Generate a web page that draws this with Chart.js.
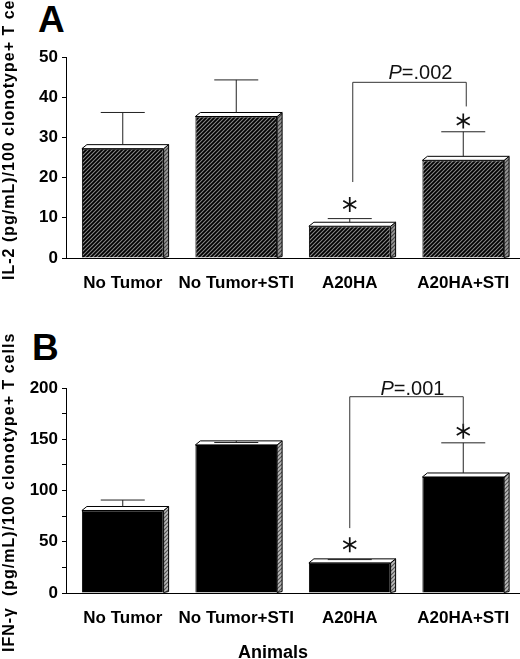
<!DOCTYPE html>
<html>
<head>
<meta charset="utf-8">
<script src="https://cdn.jsdelivr.net/npm/chart.js@4.4.1/dist/chart.umd.min.js"></script>
<style>
  body { margin: 0; background: #fff; width: 520px; height: 659px; position: relative; overflow: hidden; font-family: "Liberation Sans", Arial, sans-serif; }
  canvas { position: absolute; left: 0; }
  .panel { position: absolute; font-weight: bold; font-size: 37px; color: #000; line-height: 1; }
  #animals { position: absolute; left: 238px; top: 643px; font-weight: bold; font-size: 18px; line-height: 1; }
</style>
</head>
<body>
<div class="panel" style="left:38px; top:1px;">A</div>
<canvas id="chartA" width="520" height="310" style="top:0px;"></canvas>
<div class="panel" style="left:32px; top:329px;">B</div>
<canvas id="chartB" width="520" height="329" style="top:330px;"></canvas>
<div id="animals">Animals</div>
<script>
// categories and values
var categories = ['No Tumor', 'No Tumor+STI', 'A20HA', 'A20HA+STI'];

var il2Values = [27.2, 35.2, 7.9, 24.3];
var il2ErrorTop = [36.2, 44.3, 9.8, 31.4];
var il2Stars = [null, null, 13.3, 34.1];
var il2Bracket = [18.9, 43.7, 37.7]; // left end, top, right end
var il2PValue = '=.002';
var il2PLevel = 45.9;

var ifnValues = [80.5, 144.5, 29.4, 113.2];
var ifnErrorTop = [90.7, 146.8, 32.6, 146.5];
var ifnStars = [null, null, 47, 157.8];
var ifnBracket = [63.3, 191.5, 162.7];
var ifnPValue = '=.001';
var ifnPLevel = 199;

function makeHatch(bg, fg, w) {
    var c = document.createElement('canvas');
    c.width = 4; c.height = 4;
    var g = c.getContext('2d');
    g.fillStyle = bg;
    g.fillRect(0, 0, 4, 4);
    g.strokeStyle = fg;
    g.lineWidth = w;
    g.beginPath();
    g.moveTo(0, 4); g.lineTo(4, 0);
    g.moveTo(-1, 1); g.lineTo(1, -1);
    g.moveTo(3, 5); g.lineTo(5, 3);
    g.stroke();
    return g.createPattern(c, 'repeat');
}

function drawStar(ctx, x, y, r) {
    ctx.save();
    ctx.strokeStyle = '#111';
    ctx.lineWidth = 1.7;
    ctx.beginPath();
    for (var k = 0; k < 3; k++) {
        var a = Math.PI / 2 + k * Math.PI / 3;
        ctx.moveTo(x - r * Math.cos(a), y - r * Math.sin(a));
        ctx.lineTo(x + r * Math.cos(a), y + r * Math.sin(a));
    }
    ctx.stroke();
    ctx.restore();
}

// 3D faces, error bars, stars and the P bracket
var decorPlugin = {
    id: 'decor',
    afterDatasetsDraw: function (chart, args, opts) {
        var ctx = chart.ctx;
        var yScale = chart.scales.y;
        var meta = chart.getDatasetMeta(0);
        var d = 5, dy = 4;
        ctx.save();
        meta.data.forEach(function (bar, i) {
            var p = bar.getProps(['x', 'y', 'base', 'width'], true);
            var l = p.x - p.width / 2, r = p.x + p.width / 2, top = p.y;
            // right side
            ctx.beginPath();
            ctx.moveTo(r, top);
            ctx.lineTo(r + d, top - dy);
            ctx.lineTo(r + d, p.base - 1);
            ctx.lineTo(r, p.base);
            ctx.closePath();
            ctx.fillStyle = opts.sideFill;
            ctx.fill();
            ctx.strokeStyle = '#000';
            ctx.lineWidth = 1;
            ctx.stroke();
            // top face
            ctx.beginPath();
            ctx.moveTo(l, top);
            ctx.lineTo(l + d, top - dy);
            ctx.lineTo(r + d, top - dy);
            ctx.lineTo(r, top);
            ctx.closePath();
            ctx.fillStyle = '#fff';
            ctx.fill();
            ctx.stroke();
            // error bar
            var ey = yScale.getPixelForValue(opts.errorTop[i]);
            ctx.strokeStyle = '#222';
            ctx.beginPath();
            ctx.moveTo(p.x, top - dy);
            ctx.lineTo(p.x, ey);
            ctx.moveTo(p.x - 22, ey);
            ctx.lineTo(p.x + 22, ey);
            ctx.stroke();
            if (opts.stars[i] != null) {
                drawStar(ctx, p.x, yScale.getPixelForValue(opts.stars[i]), 7.5);
            }
        });
        // bracket between A20HA and A20HA+STI
        var xl = meta.data[2].x + opts.bracketShift, xr = meta.data[3].x + opts.bracketShift;
        var b = opts.bracket;
        ctx.strokeStyle = '#333';
        ctx.lineWidth = 1;
        ctx.beginPath();
        ctx.moveTo(xl, yScale.getPixelForValue(b[0]));
        ctx.lineTo(xl, yScale.getPixelForValue(b[1]));
        ctx.lineTo(xr, yScale.getPixelForValue(b[1]));
        ctx.lineTo(xr, yScale.getPixelForValue(b[2]));
        ctx.stroke();
        // P label
        ctx.fillStyle = '#111';
        ctx.textBaseline = 'middle';
        ctx.font = 'italic 20px "Liberation Sans", Arial';
        var wP = ctx.measureText('P').width;
        ctx.font = '20px "Liberation Sans", Arial';
        var wRest = ctx.measureText(opts.pValue).width;
        var cx = (xl + xr) / 2 + opts.pShift;
        var ty = yScale.getPixelForValue(opts.pLevel);
        var sx = cx - (wP + wRest) / 2;
        ctx.textAlign = 'left';
        ctx.font = 'italic 20px "Liberation Sans", Arial';
        ctx.fillText('P', sx, ty);
        ctx.font = '20px "Liberation Sans", Arial';
        ctx.fillText(opts.pValue, sx + wP, ty);
        // y title, anchored at its lower end
        ctx.translate(10, opts.titleBottom);
        ctx.rotate(-Math.PI / 2);
        ctx.textAlign = 'left';
        ctx.font = 'bold 16px "Liberation Sans", Arial';
        ctx.letterSpacing = '1px';
        ctx.fillStyle = '#000';
        ctx.fillText(opts.yTitle, 0, 0);
        ctx.restore();
    }
};

function buildConfig(values, fill, yMax, step, labelStep, padTop, xHeight, decor) {
    return {
        type: 'bar',
        data: {
            labels: categories,
            datasets: [{
                data: values,
                backgroundColor: fill,
                borderColor: '#000',
                borderWidth: 1,
                barPercentage: 0.72,
                categoryPercentage: 1
            }]
        },
        options: {
            responsive: false,
            animation: false,
            devicePixelRatio: 1,
            layout: { padding: { top: padTop, right: 0, left: 0, bottom: 0 } },
            plugins: {
                legend: { display: false },
                tooltip: { enabled: false },
                decor: decor
            },
            scales: {
                x: {
                    grid: { display: false },
                    border: { display: true, color: '#000', width: 1 },
                    ticks: {
                        color: '#000',
                        padding: 7,
                        maxRotation: 0,
                        autoSkip: false,
                        font: { family: '"Liberation Sans", Arial', weight: 'bold', size: 17 }
                    },
                    afterFit: function (scale) { scale.height = xHeight; }
                },
                y: {
                    min: 0,
                    max: yMax,
                    grid: { drawOnChartArea: false, drawTicks: true, tickLength: 4, color: '#000' },
                    border: { display: true, color: '#000', width: 1 },
                    ticks: {
                        stepSize: step,
                        color: '#000',
                        padding: 4,
                        font: { family: '"Liberation Sans", Arial', weight: 'bold', size: 17 },
                        callback: function (value) {
                            return value % labelStep === 0 ? value : '';
                        }
                    },
                    afterFit: function (scale) { scale.width = 66; }
                }
            }
        },
        plugins: [decorPlugin]
    };
}

new Chart(document.getElementById('chartA').getContext('2d'),
    buildConfig(il2Values, makeHatch('#8a8a8a', '#000', 1.8), 50, 5, 10, 57, 52, {
        errorTop: il2ErrorTop, stars: il2Stars, bracket: il2Bracket, bracketShift: 3,
        pValue: il2PValue, pLevel: il2PLevel, pShift: 11, sideFill: makeHatch('#999', '#444', 1.2),
        yTitle: 'IL-2 (pg/mL)/100 clonotype+ T cells', titleBottom: 280
    }));

new Chart(document.getElementById('chartB').getContext('2d'),
    buildConfig(ifnValues, '#000', 200, 25, 50, 58, 66, {
        errorTop: ifnErrorTop, stars: ifnStars, bracket: ifnBracket, bracketShift: 0,
        pValue: ifnPValue, pLevel: ifnPLevel, pShift: 6, sideFill: makeHatch('#bbb', '#555', 1.2),
        yTitle: 'IFN-\u03b3  (pg/mL)/100 clonotype+ T cells', titleBottom: 322
    }));
</script>
</body>
</html>
